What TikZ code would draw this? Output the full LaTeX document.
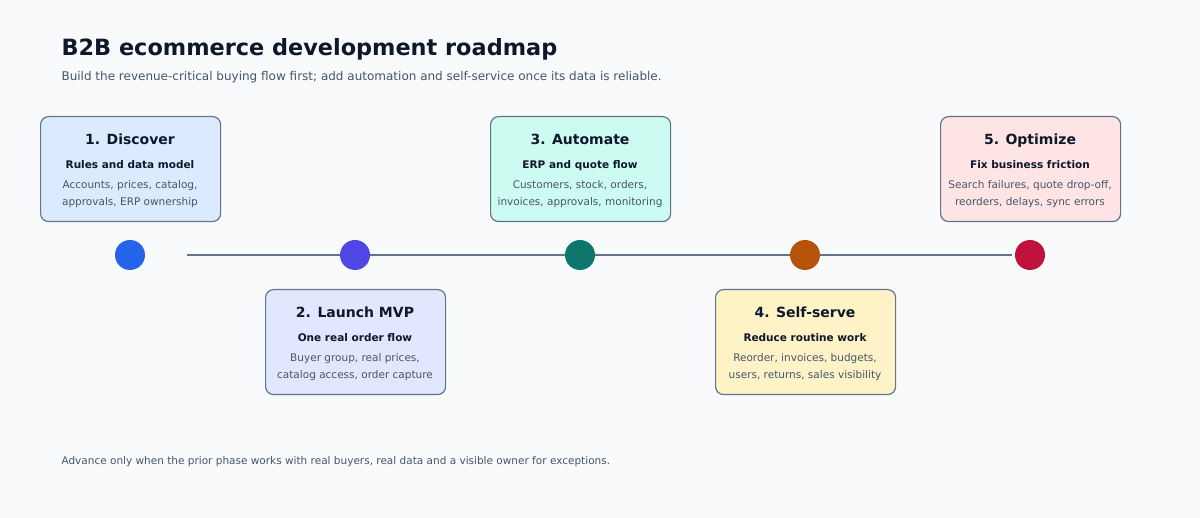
\documentclass[tikz,border=0pt]{standalone}
\usepackage{fontspec}
\setmainfont{DejaVu Sans}
\begin{document}
\begin{tikzpicture}[x=1pt,y=-1pt,
  box/.style={draw=brd,line width=1.2pt,rounded corners=8pt,minimum width=180pt,minimum height=105pt,anchor=north west},
  dot/.style={circle,minimum size=30pt,inner sep=0pt},
  ttl/.style={anchor=base,font=\bfseries\fontsize{14}{16}\selectfont,text=ink},
  sub/.style={anchor=base,font=\bfseries\fontsize{10.5}{12}\selectfont,text=ink},
  bod/.style={anchor=base,font=\fontsize{10.5}{12}\selectfont,text=mut}]
\definecolor{bg}{HTML}{F8FAFC}\definecolor{brd}{HTML}{64748B}
\definecolor{ink}{HTML}{0F172A}\definecolor{mut}{HTML}{475569}
\definecolor{f1}{HTML}{DBEAFE}\definecolor{c1}{HTML}{2563EB}
\definecolor{f2}{HTML}{E0E7FF}\definecolor{c2}{HTML}{4F46E5}
\definecolor{f3}{HTML}{CCFBF1}\definecolor{c3}{HTML}{0F766E}
\definecolor{f4}{HTML}{FEF3C7}\definecolor{c4}{HTML}{B45309}
\definecolor{f5}{HTML}{FFE4E6}\definecolor{c5}{HTML}{BE123C}
\fill[bg] (0,0) rectangle (1200,518);
\useasboundingbox (0,0) rectangle (1200,518);
\node[anchor=base west,font=\bfseries\fontsize{22.4}{24}\selectfont,text=ink] (title) at (58,56) {B2B ecommerce development roadmap};
\node[anchor=base west,font=\fontsize{12}{14}\selectfont,text=mut] (subtitle) at (58,81) {Build the revenue-critical buying flow first; add automation and self-service once its data is reliable.};
\node[anchor=base west,font=\fontsize{10.5}{12}\selectfont,text=mut] (foot) at (58,465) {Advance only when the prior phase works with real buyers, real data and a visible owner for exceptions.};
\coordinate (ls) at (187,255); \coordinate (le) at (1012,255);
\draw[brd,line width=2pt] (ls) -- (le);
\foreach \i/\x/\y/\t/\s/\a/\b in {
 1/40/116/1. Discover/Rules and data model/{Accounts, prices, catalog,}/{approvals, ERP ownership},
 2/265/289/2. Launch MVP/One real order flow/{Buyer group, real prices,}/{catalog access, order capture},
 3/490/116/3. Automate/ERP and quote flow/{Customers, stock, orders,}/{invoices, approvals, monitoring},
 4/715/289/4. Self-serve/Reduce routine work/{Reorder, invoices, budgets,}/{users, returns, sales visibility},
 5/940/116/5. Optimize/Fix business friction/{Search failures, quote drop-off,}/{reorders, delays, sync errors}}{
 \node[box,fill=f\i] (b\i) at (\x,\y) {};
 \node[ttl] (t\i) at (\x+90,\y+29) {\t};
 \node[sub] (s\i) at (\x+90,\y+53) {\s};
 \node[bod] (d\i) at (\x+90,\y+73) {\a};
 \node[bod] (e\i) at (\x+90,\y+90) {\b};
 \node[dot,fill=c\i] (p\i) at (130+225*\i-225,255) {};
}
\end{tikzpicture}
\end{document}
